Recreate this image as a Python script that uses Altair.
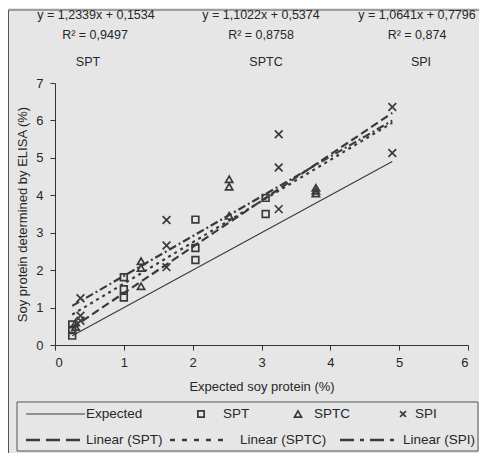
import altair as alt
import pandas as pd

# ---------------- data ----------------
x_ticks = [0, 1, 2, 3, 4, 5, 6]
y_ticks = [0, 1, 2, 3, 4, 5, 6, 7]

series_names = ["SPT", "SPTC", "SPI"]

spt_x = [0.25, 0.25, 0.25, 1.0, 1.0, 1.0, 2.04, 2.04, 2.04, 3.06, 3.06]
spt_y = [0.55, 0.40, 0.25, 1.81, 1.49, 1.27, 3.35, 2.59, 2.27, 3.93, 3.50]

sptc_x = [0.30, 0.30, 1.25, 1.25, 1.25, 2.53, 2.53, 2.53, 3.79, 3.79, 3.79]
sptc_y = [0.60, 0.48, 2.24, 2.06, 1.57, 4.43, 4.23, 3.45, 4.20, 4.12, 4.05]

spi_x = [0.37, 0.37, 0.37, 1.62, 1.62, 1.62, 3.25, 3.25, 3.25, 4.90, 4.90]
spi_y = [1.25, 0.78, 0.65, 3.34, 2.66, 2.08, 5.63, 4.74, 3.63, 6.36, 5.13]

slopes = [1.2339, 1.1022, 1.0641]
intercepts = [0.1534, 0.5374, 0.7796]
equations = ["y = 1,2339x + 0,1534", "y = 1,1022x + 0,5374", "y = 1,0641x + 0,7796"]
r2_labels = ["R\u00b2 = 0,9497", "R\u00b2 = 0,8758", "R\u00b2 = 0,874"]

fit_range = [0.25, 4.9]
expected_x = [0.25, 4.9]
expected_y = [0.25, 4.9]

legend_row1 = ["Expected", "SPT", "SPTC", "SPI"]
legend_row2 = ["Linear (SPT)", "Linear (SPTC)", "Linear (SPI)"]

x_title = "Expected soy protein (%)"
y_title = "Soy protein determined by ELISA (%)"

# ---------------- tables ----------------
pts = pd.DataFrame(
    {
        "series": ["SPT"] * len(spt_x) + ["SPTC"] * len(sptc_x) + ["SPI"] * len(spi_x),
        "x": spt_x + sptc_x + spi_x,
        "y": spt_y + sptc_y + spi_y,
    }
)

fit_rows = []
for name, m, b in zip(series_names, slopes, intercepts):
    for xv in fit_range:
        fit_rows.append({"series": name, "x": xv, "y": m * xv + b})
fits = pd.DataFrame(fit_rows)

exp_df = pd.DataFrame({"x": expected_x, "y": expected_y})

FONT = "Liberation Sans"
INK = "#3a3a3a"
TXT = "#262626"
X_PATH = "M-1,-1L1,1M1,-1L-1,1"
shape_range = ["square", "triangle-up", X_PATH]
dash_plot = [[8, 4], [3, 4], [8, 3, 2, 3]]
dash_leg = [[14, 6], [5, 7], [14, 6, 4, 6]]

xs = alt.Scale(domain=[0, 6], nice=False, zero=False)
ys = alt.Scale(domain=[0, 7], nice=False, zero=False)
x_axis = alt.Axis(values=x_ticks, title=x_title, titleY=41, titleBaseline="middle", format="d")
y_axis = alt.Axis(values=y_ticks, title=y_title, titleX=-33, titleY=131,
                  titleBaseline="middle", format="d")


def X():
    return alt.X("x:Q", scale=xs, axis=x_axis)


def Y():
    return alt.Y("y:Q", scale=ys, axis=y_axis)


layers = []

# outer frame (left + top)
layers.append(alt.Chart(pd.DataFrame({"k": [0]})).mark_rule(color="#555", strokeWidth=1).encode(
    x=alt.value(-46.5), y=alt.value(-73), y2=alt.value(380)))
layers.append(alt.Chart(pd.DataFrame({"k": [0]})).mark_rule(color="#555", strokeWidth=1).encode(
    x=alt.value(-46.5), x2=alt.value(430), y=alt.value(-73)))

# expected line
layers.append(alt.Chart(exp_df).mark_line(color=INK, strokeWidth=1.1).encode(x=X(), y=Y()))

# trend lines
layers.append(
    alt.Chart(fits).mark_line(color=INK, strokeWidth=2.2).encode(
        x=X(), y=Y(),
        detail="series:N",
        strokeDash=alt.StrokeDash("series:N", scale=alt.Scale(domain=series_names, range=dash_plot), legend=None),
    )
)

# points
layers.append(
    alt.Chart(pts).mark_point(filled=False, color=INK, strokeWidth=1.7, opacity=1).encode(
        x=X(), y=Y(),
        shape=alt.Shape("series:N", scale=alt.Scale(domain=series_names, range=shape_range), legend=None),
        size=alt.Size("series:N", scale=alt.Scale(domain=series_names, range=[45, 60, 40]), legend=None),
    )
)

# equation annotations
eq_cx = [41, 206, 362]
r2_cx = [40, 206, 362]
nm_cx = [33, 211, 366]
for i in range(3):
    for txt, cx, cy in [(equations[i], eq_cx[i], -68), (r2_labels[i], r2_cx[i], -48), (series_names[i], nm_cx[i], -21)]:
        layers.append(
            alt.Chart(pd.DataFrame({"t": [txt]})).mark_text(
                font=FONT, fontSize=12.5, color=TXT, align="center", baseline="middle"
            ).encode(x=alt.value(cx), y=alt.value(cy), text="t:N")
        )

# legend box
layers.append(alt.Chart(pd.DataFrame({"k": [0]})).mark_rect(fill=None, stroke="#555", strokeWidth=1).encode(
    x=alt.value(-38), x2=alt.value(423), y=alt.value(319), y2=alt.value(368)))

R1, R2 = 331, 357
# row 1
layers.append(alt.Chart(pd.DataFrame({"k": [0]})).mark_rule(color=INK, strokeWidth=1.1).encode(
    x=alt.value(-29), x2=alt.value(30), y=alt.value(R1)))
for shp, sz, px in [(shape_range[0], 40, 146), (shape_range[1], 50, 243), (shape_range[2], 35, 348)]:
    layers.append(alt.Chart(pd.DataFrame({"k": [0]})).mark_point(
        filled=False, color=INK, strokeWidth=1.7, opacity=1, shape=shp, size=sz).encode(
        x=alt.value(px), y=alt.value(R1)))
for txt, px in zip(legend_row1, [31, 168, 259, 360]):
    layers.append(alt.Chart(pd.DataFrame({"t": [txt]})).mark_text(
        font=FONT, fontSize=13.5, color=TXT, align="left", baseline="middle").encode(
        x=alt.value(px), y=alt.value(R1), text="t:N"))
# row 2
for (x1, x2), dash in zip([(-29, 30), (115, 175), (285, 343)], dash_leg):
    layers.append(alt.Chart(pd.DataFrame({"k": [0]})).mark_rule(
        color=INK, strokeWidth=2.4, strokeDash=dash).encode(
        x=alt.value(x1), x2=alt.value(x2), y=alt.value(R2)))
for txt, px in zip(legend_row2, [31, 185, 348]):
    layers.append(alt.Chart(pd.DataFrame({"t": [txt]})).mark_text(
        font=FONT, fontSize=13.5, color=TXT, align="left", baseline="middle").encode(
        x=alt.value(px), y=alt.value(R2), text="t:N"))

chart = (
    alt.layer(*layers)
    .properties(
        width=413,
        height=262,
        autosize=alt.AutoSizeParams(type="none"),
        padding={"left": 47, "top": 75, "right": 11, "bottom": 108},
        background="#e6e6e6",
    )
    .configure_view(stroke=None)
    .configure_axis(
        grid=False,
        domainColor="#333",
        tickColor="#333",
        tickSize=5,
        labelFont=FONT,
        labelFontSize=13,
        labelColor=TXT,
        titleFont=FONT,
        titleFontSize=13,
        titleFontWeight="normal",
        titleColor=TXT,
    )
    .configure_axisY(labelPadding=7)
    .configure_axisX(labelPadding=6)
)

chart.save("out.html", embed_options={"renderer": "svg", "actions": False})
